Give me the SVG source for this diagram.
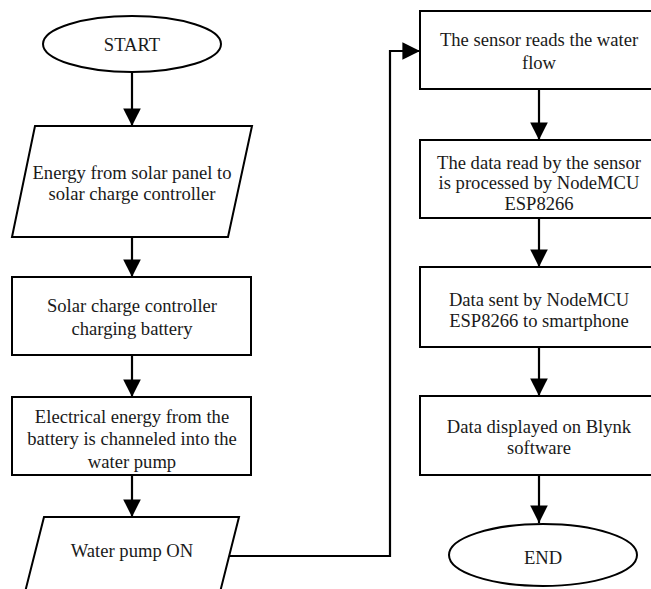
<svg xmlns="http://www.w3.org/2000/svg" width="651" height="589" viewBox="0 0 651 589">
<style>
.s{fill:#fff;stroke:#000;stroke-width:2}
.c{fill:none;stroke:#000;stroke-width:2.2}
</style>
<defs>
<marker id="ah" viewBox="0 0 10 10" refX="10" refY="5" markerWidth="8" markerHeight="8" markerUnits="strokeWidth" orient="auto">
<path d="M0,0 L10,5 L0,10 z" fill="#000"/>
</marker>
</defs>
<rect width="651" height="589" fill="#fff"/>
<g id="connectors">
<line class="c" x1="132" y1="72" x2="132" y2="126" marker-end="url(#ah)"/>
<line class="c" x1="132" y1="237" x2="132" y2="277" marker-end="url(#ah)"/>
<line class="c" x1="132" y1="355" x2="132" y2="397" marker-end="url(#ah)"/>
<line class="c" x1="132" y1="475" x2="132" y2="517" marker-end="url(#ah)"/>
<polyline class="c" points="229,556 390,556 390,51 420,51" marker-end="url(#ah)"/>
<line class="c" x1="539" y1="89" x2="539" y2="140" marker-end="url(#ah)"/>
<line class="c" x1="539" y1="218" x2="539" y2="267" marker-end="url(#ah)"/>
<line class="c" x1="539" y1="347" x2="539" y2="396" marker-end="url(#ah)"/>
<line class="c" x1="539" y1="475" x2="539" y2="523" marker-end="url(#ah)"/>
</g>
<g font-family="Liberation Serif, Times New Roman, serif" font-size="18.6" fill="#1a1a1a" text-anchor="middle" dominant-baseline="central">
<g id="start">
<ellipse class="s" cx="132" cy="44" rx="89" ry="28"/>
<text x="132" y="44">START</text>
</g>
<g id="energy">
<polygon class="s" points="35,126 252,126 228,237 12,237"/>
<text x="132" y="172">Energy from solar panel to</text>
<text x="132" y="193">solar charge controller</text>
</g>
<g id="charging">
<rect class="s" x="12" y="277" width="239" height="78"/>
<text x="132" y="305">Solar charge controller</text>
<text x="132" y="328">charging battery</text>
</g>
<g id="electrical">
<rect class="s" x="12" y="397" width="239" height="78"/>
<text x="132" y="416">Electrical energy from the</text>
<text x="132" y="438">battery is channeled into the</text>
<text x="132" y="461">water pump</text>
</g>
<g id="pump">
<polygon class="s" points="44,517 239,517 213,620 18,620"/>
<text x="132" y="550">Water pump ON</text>
</g>
<g id="sensor">
<rect class="s" x="420" y="11" width="238" height="78"/>
<text x="539" y="39">The sensor reads the water</text>
<text x="539" y="62">flow</text>
</g>
<g id="process">
<rect class="s" x="420" y="140" width="238" height="78"/>
<text x="539" y="162">The data read by the sensor</text>
<text x="539" y="182">is processed by NodeMCU</text>
<text x="539" y="203">ESP8266</text>
</g>
<g id="send">
<rect class="s" x="420" y="267" width="238" height="80"/>
<text x="539" y="299">Data sent by NodeMCU</text>
<text x="539" y="320">ESP8266 to smartphone</text>
</g>
<g id="display">
<rect class="s" x="420" y="396" width="238" height="79"/>
<text x="539" y="426">Data displayed on Blynk</text>
<text x="539" y="447">software</text>
</g>
<g id="end">
<ellipse class="s" cx="543" cy="555" rx="94" ry="31"/>
<text x="543" y="557">END</text>
</g>
</g>
</svg>
